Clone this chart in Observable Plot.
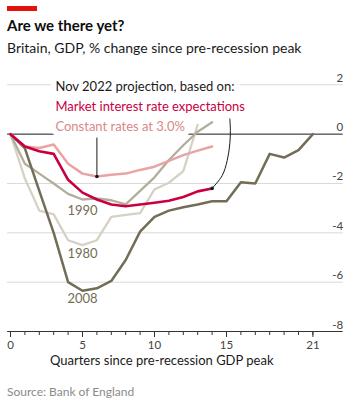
<!DOCTYPE html>
<html>
<head>
<meta charset="utf-8">
<script src="https://cdn.jsdelivr.net/npm/d3@7"></script>
<script src="https://cdn.jsdelivr.net/npm/@observablehq/plot@0.6"></script>
<style>
  body { margin: 0; background: #fff; font-family: Lato, "Open Sans", sans-serif; }
  #wrap { position: relative; width: 355px; height: 403px; overflow: hidden; }
  .bar { position: absolute; left: 7px; top: 6px; width: 30px; height: 4.5px; background: #E3120B; }
  .title { position: absolute; left: 7px; top: 16px; font: bold 15px Lato; color: #0d0d0d; white-space: nowrap; line-height: 1.2; }
  .sub { position: absolute; left: 7px; top: 39.5px; font: 14px Lato; color: #1a1a1a; white-space: nowrap; line-height: 1.2; }
  #chart { position: absolute; left: 0; top: 60px; }
  .src { position: absolute; left: 7px; top: 385px; font: 12px Lato; color: #8a8a8a; white-space: nowrap; line-height: 1.2; }
</style>
</head>
<body>
<div id="wrap">
  <div class="bar"></div>
  <div class="title">Are we there yet?</div>
  <div class="sub">Britain, GDP, % change since pre-recession peak</div>
  <div id="chart"></div>
  <div class="src">Source: Bank of England</div>
</div>
<script>
// Quarters since pre-recession GDP peak
const quarters = [0,1,2,3,4,5,6,7,8,9,10,11,12,13,14,15,16,17,18,19,20,21];
// % change in GDP since pre-recession peak
const gdp1980 = [0,-1.8,-3.1,-3.25,-4.3,-4.5,-4.3,-3.35,-3.27,-3.2,-2.24,-1.97,-1.5,0.38];
const gdp1990 = [0,-1.2,-1.6,-2.0,-2.42,-2.65,-2.6,-2.68,-2.85,-2.3,-1.75,-1.05,-0.45,0.1,0.48];
const gdp2008 = [0,-0.58,-2.3,-4.0,-6.0,-6.35,-6.25,-5.95,-5.1,-3.95,-3.35,-3.1,-2.96,-2.85,-2.72,-2.72,-1.95,-2.0,-0.8,-0.95,-0.65,0];
const constantRates = [0,-0.5,-0.56,-0.42,-1.2,-1.6,-1.72,-1.65,-1.6,-1.45,-1.32,-1.08,-0.85,-0.67,-0.5];
const marketRates = [0,-0.5,-0.69,-0.8,-1.85,-2.37,-2.65,-2.85,-2.92,-2.85,-2.78,-2.7,-2.55,-2.32,-2.2];
// Axis ticks
const yTicks = [2,0,-2,-4,-6,-8];
const yGrid = [2,-2,-4,-6];
const xLabelTicks = [0,5,10,15,21];
// Text
const seriesLabels = ["1990","1980","2008"];
const annotLines = ["Nov 2022 projection, based on:","Market interest rate expectations","Constant rates at 3.0%"];
const xTitle = "Quarters since pre-recession GDP peak";
// Pointer curve path (data space) from the annotation to the end of the market-rates line
const pointerCurve = [[15.23,0.62],[15.27,0.15],[15.23,-0.39],[15.05,-1.07],[14.7,-1.68],[14,-2.2]];

const rows = arr => arr.map((v, i) => ({q: quarters[i], v}));

const C = {
  c1980: "#d4d1c5", c1990: "#b3ae9c", c2008: "#736d57",
  pink: "#e9a3a3", crimson: "#c8003f", pinkText: "#d98888",
  ink: "#1a1a1a", grid: "#d9d9d9", tick: "#444"
};
const font = "Lato, 'Open Sans', sans-serif";

const annotY = [1.93, 1.12, 0.31];
const annotFill = [C.ink, C.crimson, C.pinkText];

const plot = Plot.plot({
  width: 355,
  height: 318,
  marginLeft: 10,
  marginRight: 13.8,
  marginTop: 24.3,
  marginBottom: 47,
  style: {fontFamily: font, background: "transparent", overflow: "visible"},
  x: {domain: [0, 23]},
  y: {domain: [-8, 2], axis: null},
  marks: [
    Plot.ruleY(yGrid, {x1: -0.2, x2: 23.1, stroke: C.grid, strokeWidth: 1}),
    Plot.ruleY([0], {x1: -0.2, x2: 23.1, stroke: C.ink, strokeWidth: 1}),
    // white halos behind annotation text
    Plot.text(annotLines, {x: 3.12, y: (d, i) => annotY[i], text: d => d, textAnchor: "start",
      fontSize: 13, fill: "white", stroke: "white", strokeWidth: 12, fontFamily: font}),
    Plot.ruleY([-8], {x1: -0.2, x2: 23.1, stroke: "#333", strokeWidth: 1.2}),
    Plot.axisX(quarters, {tickSize: 4, tickFormat: () => "", label: null, stroke: "#333"}),
    Plot.axisX(xLabelTicks, {tickSize: 6, tickPadding: 3, fontSize: 11.5, label: null, stroke: "#333", fill: C.tick}),
    Plot.text(yTicks, {x: 23.1, y: d => d, text: d => String(d), textAnchor: "end", lineAnchor: "bottom",
      dy: -3, fontSize: 11.5, fill: C.tick}),
    Plot.line(rows(gdp1980), {x: "q", y: "v", stroke: C.c1980, strokeWidth: 2.3}),
    Plot.line(rows(gdp1990), {x: "q", y: "v", stroke: C.c1990, strokeWidth: 2.3}),
    Plot.line(rows(gdp2008), {x: "q", y: "v", stroke: C.c2008, strokeWidth: 2.5}),
    Plot.line(rows(constantRates), {x: "q", y: "v", stroke: C.pink, strokeWidth: 2.5}),
    Plot.line(rows(marketRates), {x: "q", y: "v", stroke: C.crimson, strokeWidth: 2.6}),
    // pointers
    Plot.ruleX([6], {y1: -0.16, y2: constantRates[6], stroke: C.ink, strokeWidth: 1}),
    Plot.line(pointerCurve, {curve: "catmull-rom", stroke: C.ink, strokeWidth: 1}),
    Plot.dot([[6, constantRates[6]], [14, marketRates[14]]], {r: 1.8, fill: C.ink}),
    // annotation text
    Plot.text(annotLines, {x: 3.12, y: (d, i) => annotY[i], text: d => d, textAnchor: "start",
      fontSize: 13, fill: (d, i) => annotFill[i], fontFamily: font}),
    // series labels
    Plot.text(seriesLabels, {x: 5, y: [-3.1, -4.84, -6.66], text: d => d, fontSize: 13, fill: C.c2008}),
    // x axis title
    Plot.text([xTitle], {x: 10.5, frameAnchor: "bottom", dy: 33, text: d => d, fontSize: 13, fill: C.ink})
  ]
});
document.getElementById("chart").appendChild(plot);
</script>
</body>
</html>
